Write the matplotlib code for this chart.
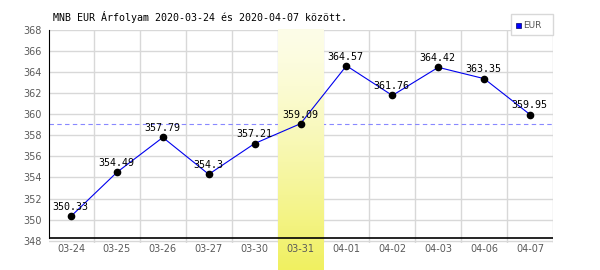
import numpy as np
import matplotlib
matplotlib.use('Agg')
import matplotlib.pyplot as plt
from matplotlib.patches import Rectangle

dates = ['03-24', '03-25', '03-26', '03-27', '03-30', '03-31',
         '04-01', '04-02', '04-03', '04-06', '04-07']
eur = [350.33, 354.49, 357.79, 354.3, 357.21, 359.09,
       364.57, 361.76, 364.42, 363.35, 359.95]
highlight_idx = 5
ref_value = 359.09
y_ticks = list(range(348, 369, 2))
title = 'MNB EUR Árfolyam 2020-03-24 és 2020-04-07 között.'

W, H = 600, 270
fig = plt.figure(figsize=(W / 100, H / 100), dpi=100)
fig.patch.set_facecolor('white')

# axes box in pixels: left 49, right 553, top 29.5, bottom 243
ax = fig.add_axes([49 / W, 1 - 243 / H, (553 - 49) / W, (243 - 29.5) / H])
ax.set_facecolor('none')
x = np.arange(len(dates))
ax.set_xlim(-0.48, len(dates) - 0.5)
ax.set_ylim(347.8, 368)

# grid
for yt in y_ticks:
    ax.axhline(yt, color='#d8d8d8', lw=1, zorder=0.5)
for i in range(len(dates)):
    ax.axvline(i + 0.5, color='#d8d8d8', lw=1, zorder=0.5)

# reference line (dashed)
ax.axhline(ref_value, color='#8888ff', lw=0.8, ls=(0, (4, 3)), zorder=0.8)

# highlighted column with gradient, reaching to bottom of image
ppu = (243 - 29.5) / (368 - 347.8)
y_img_bottom = 347.8 - (270 - 243) / ppu
grad = np.linspace(0, 1, 256).reshape(-1, 1) ** 1.3
top_c = np.array([0xfd, 0xfd, 0xe8]) / 255
bot_c = np.array([0xf0, 0xf0, 0x60]) / 255
img = top_c * (1 - grad[..., None]) + bot_c * grad[..., None]
ax.imshow(img, extent=(highlight_idx - 0.5, highlight_idx + 0.5, y_img_bottom, 368),
          aspect='auto', origin='upper', zorder=1, clip_on=False)

# data
ax.plot(x, eur, color='#0000ee', lw=0.8, zorder=3)
ax.plot(x, eur, 'o', color='black', ms=4.5, zorder=4)
for xi, v in zip(x, eur):
    ax.annotate(f'{v:g}', (xi, v), xytext=(-0.5, 3), textcoords='offset points',
                ha='center', va='bottom', fontsize=7.2, family='DejaVu Sans Mono',
                color='black', zorder=5)

# axes styling
for s in ['top', 'right']:
    ax.spines[s].set_visible(False)
ax.spines['bottom'].set_visible(False)
ax.spines['left'].set_bounds(348.25, 368)
ax.spines['left'].set_color('black')
ax.axhline(348.25, color='black', lw=1.2, zorder=2.6)

ax.set_xticks(x)
ax.set_xticklabels(dates)
ax.set_yticks(y_ticks)
ax.tick_params(length=0, labelsize=7, colors='#5a5a5a')
ax.tick_params(axis='y', pad=5)
ax.tick_params(axis='x', pad=1)

fig.text(53 / W, 1 - 17 / H, title, fontsize=7.2, family='DejaVu Sans Mono',
         ha='left', va='center', color='black')

# legend box
fig.patches.append(Rectangle((511 / W, 1 - 35 / H), 42 / W, 21 / H,
                             transform=fig.transFigure, facecolor='white',
                             edgecolor='#d8d8d8', lw=1))
fig.patches.append(Rectangle((515.5 / W, 1 - 27.5 / H), 5 / W, 5 / H,
                             transform=fig.transFigure, facecolor='#0000ff',
                             edgecolor='#000066', lw=0.5))
fig.text(523 / W, 1 - 25 / H, 'EUR', fontsize=6.5, color='#555555',
         ha='left', va='center')

fig.savefig('out.png', dpi=100)
